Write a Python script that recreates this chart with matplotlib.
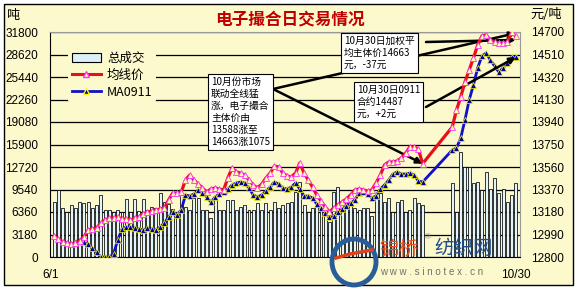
import matplotlib.pyplot as plt
import numpy as np
import pandas as pd
from matplotlib.patches import Rectangle, Ellipse
from matplotlib.lines import Line2D
from matplotlib.patches import Patch

plt.rcParams['font.family'] = ['Liberation Sans', 'Noto Sans CJK SC', 'DejaVu Sans']
CJK = ['Noto Sans CJK SC', 'DejaVu Sans']

# trading calendar: weekdays 6/1 - 10/30, national day holiday closed
all_days = pd.bdate_range('2009-06-01', '2009-10-30')
holiday = (all_days >= '2009-10-01') & (all_days <= '2009-10-08')
trade_pos = np.arange(len(all_days))[~holiday]

# 总成交 (吨)
volume = [7800, 9450, 6900, 6400, 7350, 6900, 7800, 7600, 7800, 6900,
          7350, 8750, 6650, 6650, 6400, 6650, 6300, 8200, 6400, 8200,
          6500, 8200, 6650, 7000, 6900, 9000, 7800, 7500, 6800, 6350,
          8750, 7000, 6650, 8300, 8300, 6650, 6650, 5500, 8300, 6650,
          6650, 8000, 8000, 6650, 7000, 7350, 6650, 6650, 7600, 6650,
          7600, 6650, 7800, 6900, 7350, 7600, 7800, 9200, 10600, 7350,
          6350, 6900, 7100, 6650, 6650, 4950, 9200, 9900, 6650, 7600,
          7350, 6900, 6650, 6900, 6900, 5800, 8300, 9050, 7800, 8300,
          6350, 7800, 8050, 6350, 6650, 8300, 7600, 7350,
          10450, 6350, 14800, 12700, 12700, 10450, 10600, 9500, 12000, 9600,
          11150, 9000, 9600, 7800, 8750, 10450]

# 均线价 (元/吨)
avg_price = [12977, 12952, 12927, 12918, 12910, 12918, 12935, 12969, 13028, 13036,
             13045, 13087, 13112, 13129, 13129, 13138, 13121, 13121, 13112, 13129,
             13138, 13163, 13180, 13188, 13197, 13205, 13214, 13281, 13340, 13340,
             13349, 13450, 13492, 13450, 13416, 13383, 13349, 13374, 13383, 13374,
             13366, 13467, 13552, 13518, 13509, 13492, 13450, 13408, 13383, 13416,
             13467, 13509, 13568, 13560, 13509, 13484, 13476, 13509, 13594, 13509,
             13450, 13391, 13324, 13273, 13222, 13180, 13214, 13239, 13264, 13290,
             13324, 13366, 13374, 13366, 13357, 13366, 13425, 13492, 13577, 13602,
             13602, 13611, 13636, 13678, 13729, 13729, 13712, 13588,
             13898, 14041, 14151, 14278, 14379, 14480, 14590, 14666, 14675, 14632,
             14615, 14607, 14607, 14615, 14700, 14663]

# MA0911 (元/吨)
ma0911 = [np.nan, np.nan, np.nan, np.nan, np.nan,
          12927, 12944, 12927, 12910, 12876, 12842, 12800, 12800, 12800, 12825,
          12944, 13036, 13053, 13053, 13045, 13036, 13028, 13045, 13036, 13028,
          13053, 13087, 13138, 13180, 13155, 13197, 13324, 13315, 13332, 13366,
          13340, 13307, 13264, 13307, 13332, 13349, 13374, 13408, 13425, 13433,
          13425, 13383, 13324, 13307, 13324, 13357, 13391, 13433, 13416, 13383,
          13374, 13391, 13425, 13374, 13315, 13315, 13298, 13248, 13214, 13172,
          13138, 13146, 13180, 13205, 13231, 13256, 13281, 13340, 13349, 13332,
          13298, 13315, 13374, 13408, 13450, 13501, 13518, 13501, 13501, 13509,
          13492, 13442, 13433,
          13703, 13720, 13805, 13957, 14126, 14252, 14396, 14497, 14523, 14463,
          14413, 14362, 14396, 14438, 14485, 14487]

vol_ticks = np.arange(0, 31801, 3180)
price_ticks = np.arange(12800, 14701, 190)

bg = '#fcf9cc'
W, H = 577, 288

fig = plt.figure(figsize=(W / 100, H / 100), dpi=100, facecolor='white')
fig.add_artist(Rectangle((4 / W, 3 / H), 569 / W, 281 / H, transform=fig.transFigure,
                         facecolor=bg, edgecolor='black', lw=1, zorder=-5))

ax = fig.add_axes([50 / W, 31 / H, 470 / W, 225 / H])
ax.set_facecolor(bg)
ax.bar(trade_pos, volume, width=0.7, color='#e4f4fa', edgecolor='black', lw=0.55, zorder=2)
ax.set_ylim(0, 31800)
ax.set_xlim(-1, len(all_days))
ax.set_yticks(vol_ticks)
ax.set_yticklabels([str(v) for v in vol_ticks])
ax.yaxis.grid(True, color='black', lw=0.9)
ax.set_axisbelow(True)
ax.tick_params(axis='y', length=0, pad=8.5, labelsize=8.5)
ax.set_xticks([trade_pos[0] - 0.8, trade_pos[-1]])
ax.set_xticklabels(['6/1', '10/30'])
ax.tick_params(axis='x', length=0, pad=9, labelsize=8.5)
for s in ['top', 'right']:
    ax.spines[s].set_color('#999999')
    ax.spines[s].set_lw(0.8)

ax2 = ax.twinx()
ax2.plot(trade_pos, avg_price, color='#e8101a', lw=2.3, marker='^', ms=3.8,
         mfc='#ffffa0', mec='#ff30ff', mew=0.6, zorder=4)
ax2.plot(trade_pos, ma0911, color='#1010c8', lw=2, marker='^', ms=3.8,
         mfc='#0000a0', mec='#ffff00', mew=0.5, zorder=3)
ax2.set_ylim(12800, 14700)
ax2.set_yticks(price_ticks)
ax2.set_yticklabels([str(v) for v in price_ticks])
ax2.tick_params(axis='y', length=0, pad=8, labelsize=8.5)
for s in ['top', 'right', 'left', 'bottom']:
    ax2.spines[s].set_visible(False)

handles = [Patch(facecolor='#dcf0f8', edgecolor='black', lw=0.8),
           Line2D([], [], color='#e8101a', lw=2.2, marker='^', ms=4, mfc='#ffffa0', mec='#ff30ff'),
           Line2D([], [], color='#1010c8', lw=2, marker='^', ms=4, mfc='#0000a0', mec='#ffff00')]
leg = ax2.legend(handles, ['总成交', '均线价', 'MA0911'], loc='upper left',
                 bbox_to_anchor=(62 / W, 1 - 42 / H), bbox_transform=fig.transFigure,
                 prop={'family': CJK, 'size': 9}, frameon=True, facecolor=bg,
                 edgecolor='none', framealpha=1, handlelength=2.3, labelspacing=0.3,
                 borderpad=0.3, handletextpad=0.5)
leg.set_zorder(10)

fig.text(290 / W, 1 - 19 / H, '电子撮合日交易情况', ha='center', va='center',
         family=CJK, fontsize=12, fontweight='bold', color='#c00000')
fig.text(6 / W, 1 - 15 / H, '吨', ha='left', va='center', family=CJK, fontsize=9.5)
fig.text(530 / W, 1 - 15 / H, '元/吨', ha='left', va='center', family=CJK, fontsize=9.5)

box = dict(boxstyle='square,pad=0.3', facecolor='white', edgecolor='black', lw=0.8)
fig.text(211 / W, 1 - 77 / H, '10月份市场\n联动全线猛\n涨，电子撮合\n主体价由\n13588涨至\n14663涨1075',
         ha='left', va='top', family=CJK, fontsize=7, linespacing=1.25, bbox=box, zorder=8)
fig.text(344 / W, 1 - 36 / H, '10月30日加权平\n均主体价14663\n元，-37元',
         ha='left', va='top', family=CJK, fontsize=7, linespacing=1.25, bbox=box, zorder=8)
fig.text(357 / W, 1 - 85 / H, '10月30日0911\n合约14487\n元，+2元',
         ha='left', va='top', family=CJK, fontsize=7, linespacing=1.25, bbox=box, zorder=8)

arrow = dict(arrowstyle='-|>', color='black', lw=1.8, mutation_scale=9, shrinkA=0, shrinkB=0)
last = trade_pos[-1]
sep30 = trade_pos[87]
ax2.annotate('', xy=(last, 14690), xytext=(273, H - 89), textcoords='figure pixels', arrowprops=arrow)
ax2.annotate('', xy=(sep30, avg_price[87]), xytext=(273, H - 89), textcoords='figure pixels', arrowprops=arrow)
ax2.annotate('', xy=(last, avg_price[-1] - 30), xytext=(426, H - 42), textcoords='figure pixels', arrowprops=arrow)
ax2.annotate('', xy=(last, ma0911[-1]), xytext=(426, H - 107), textcoords='figure pixels', arrowprops=arrow)

# watermark
fig.add_artist(Ellipse((354 / W, 1 - 262 / H), 44 / W, 46 / H, transform=fig.transFigure,
                       facecolor='none', edgecolor='#2a5c9a', lw=3.5, zorder=9))
fig.add_artist(Line2D([336 / W, 350 / W, 372 / W], [1 - 258 / H, 1 - 254 / H, 1 - 250 / H],
                      transform=fig.transFigure, color='#e0401c', lw=2.5, zorder=9))
fig.text(379 / W, 1 - 249 / H, '锦桥', ha='left', va='center', family=CJK, fontsize=14,
         color='#e8501e', zorder=9)
fig.text(425 / W, 1 - 238 / H, '®', ha='left', va='center', fontsize=6, color='#888888', zorder=9)
fig.text(434 / W, 1 - 249 / H, '纺织网', ha='left', va='center', family=CJK, fontsize=14,
         color='#1f4e8c', zorder=9)
fig.text(380 / W, 1 - 272 / H, 'w w w . s i n o t e x . c n', ha='left', va='center', fontsize=7,
         color='#707070', zorder=9)

fig.savefig('out.png', dpi=100, facecolor=fig.get_facecolor())
